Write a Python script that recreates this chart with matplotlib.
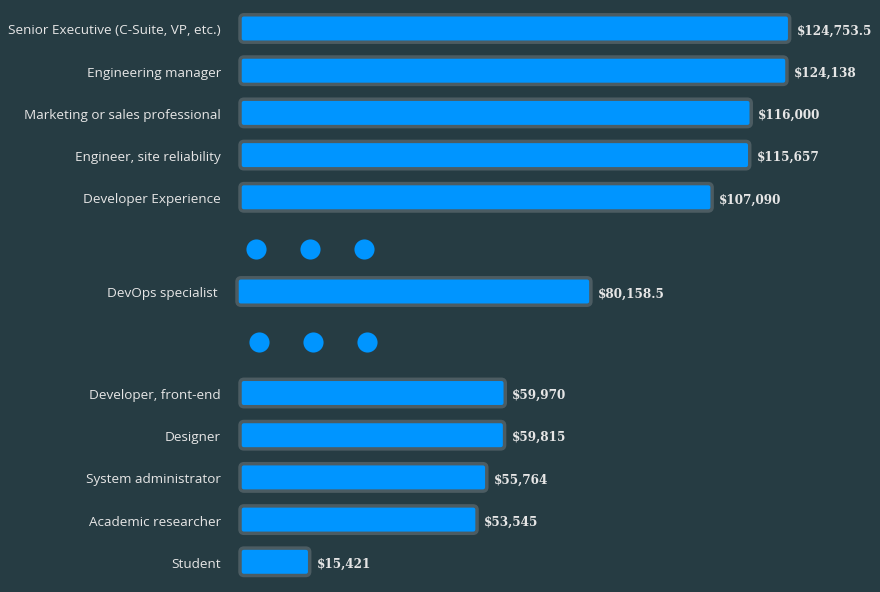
import matplotlib
matplotlib.use("Agg")
import matplotlib.pyplot as plt
from matplotlib.patches import FancyBboxPatch

# salaries (USD) by role, as shown
roles_top = ["Senior Executive (C-Suite, VP, etc.)", "Engineering manager",
             "Marketing or sales professional", "Engineer, site reliability",
             "Developer Experience"]
values_top = [124753.5, 124138, 116000, 115657, 107090]
labels_top = ["$124,753.5", "$124,138", "$116,000", "$115,657", "$107,090"]

roles_mid = ["DevOps specialist"]
values_mid = [80158.5]
labels_mid = ["$80,158.5"]

roles_bottom = ["Developer, front-end", "Designer", "System administrator",
                "Academic researcher", "Student"]
values_bottom = [59970, 59815, 55764, 53545, 15421]
labels_bottom = ["$59,970", "$59,815", "$55,764", "$53,545", "$15,421"]

BG = "#263c43"
BLUE = "#0095ff"
EDGE = "#4c5c62"
TXT = "#e6e6e6"

W, H = 880, 592
px = 0.00439         # pixels per dollar
x0 = 240             # pixel where bars start
row = 42.2           # pixels between rows

fig = plt.figure(figsize=(W / 100, H / 100), dpi=100)
fig.patch.set_facecolor(BG)
ax = fig.add_axes([0, 0, 1, 1])
ax.set_facecolor(BG)
ax.set_xlim(-x0 / px, (W - x0) / px)
ax.set_ylim(H / row, 0)
ax.axis("off")

# row positions (in row units, top = 0)
y_top = [28.5 / row + i for i in range(5)]
y_dots1 = 249 / row
y_mid = [291.5 / row]
y_dots2 = 342 / row
y_bottom = [393 / row + i for i in range(5)]

bar_h = 0.65
ypad = 2.5 / row

def draw_bars(ys, vals, names, texts, shift=0):
    s = shift / px
    for y, v, n, t in zip(ys, vals, names, texts):
        p = FancyBboxPatch((s, y - bar_h / 2), v + 2 / px, bar_h,
                           boxstyle="round,pad=0,rounding_size=%f" % (4 / px),
                           mutation_aspect=px / row,
                           facecolor=BLUE, edgecolor=EDGE, linewidth=2.5)
        ax.add_patch(p)
        ax.text(s - 19 / px, y + ypad, n, ha="right", va="center", color=TXT,
                fontsize=9.7, family="Open Sans")
        ax.text(s + v + 9 / px, y + ypad, t, ha="left", va="center", color=TXT,
                fontsize=9.6, fontweight="bold", family="DejaVu Serif",
                fontstretch="condensed")

draw_bars(y_top, values_top, roles_top, labels_top)
draw_bars(y_mid, values_mid, roles_mid, labels_mid, shift=-3)
draw_bars(y_bottom, values_bottom, roles_bottom, labels_bottom)

# "..." gaps between groups
dots_x1 = [16 / px, 70 / px, 124 / px]
dots_x2 = [19 / px, 73 / px, 127 / px]
ax.scatter(dots_x1, [y_dots1] * 3, s=210, color=BLUE, linewidths=0)
ax.scatter(dots_x2, [y_dots2] * 3, s=210, color=BLUE, linewidths=0)

fig.savefig("out.png", dpi=100, facecolor=BG)
